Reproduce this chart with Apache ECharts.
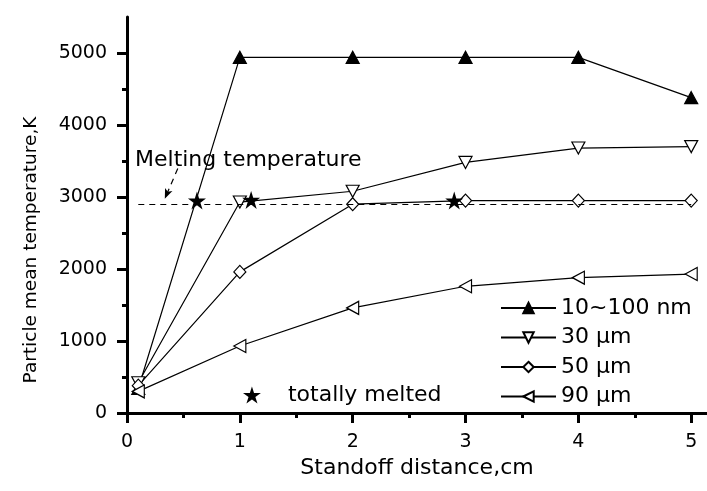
<!DOCTYPE html>
<html>
<head>
<meta charset="utf-8">
<script src="https://cdn.jsdelivr.net/npm/echarts@6/dist/echarts.min.js"></script>
<style>
html, body { margin: 0; padding: 0; background: #fff; }
#chart { width: 707px; height: 491px; }
</style>
</head>
<body>
<div id="chart"></div>
<script>
// standoff distance, cm
const distance = [0.1, 1, 2, 3, 4, 5];
// particle mean temperature, K
const tempNano = [340, 4940, 4940, 4940, 4940, 4380];
const temp30 = [420, 2930, 3080, 3480, 3680, 3700];
const temp50 = [380, 1960, 2900, 2950, 2950, 2950];
const temp90 = [300, 930, 1460, 1760, 1880, 1930];
const seriesNames = ['10~100 nm', '30 \u03bcm', '50 \u03bcm', '90 \u03bcm'];
// totally melted points
const meltedX = [0.62, 1.1, 2.9];
const meltedY = [2950, 2960, 2950];
// melting temperature line + arrow
const meltingTemp = 2900;
const meltingFrom = 0.1;
const meltingTo = 5;
const arrowStart = [0.45, 3395];
const arrowEnd = [0.335, 2976];
// ticks
const xTicks = [0, 1, 2, 3, 4, 5];
const yTicks = [0, 1000, 2000, 3000, 4000, 5000];

const STAR = 'path://M50 0 L61.2 34.5 L97.6 34.5 L68.2 55.9 L79.4 90.5 L50 69.1 L20.6 90.5 L31.8 55.9 L2.4 34.5 L38.8 34.5 Z';
const FONT = 'DejaVu Sans';

function pairs (ys) {
  return distance.map((x, i) => [x, ys[i]]);
}

function lineSeries (name, ys, symbol, rotate, size, filled) {
  return {
    name: name,
    type: 'line',
    data: pairs(ys),
    symbol: symbol,
    symbolRotate: rotate,
    symbolSize: size,
    showAllSymbol: true,
    lineStyle: { color: '#000', width: 1.2 },
    itemStyle: {
      color: filled ? '#000' : '#fff',
      borderColor: '#000',
      borderWidth: 1.2
    },
    z: 3
  };
}

const chart = echarts.init(document.getElementById('chart'));
chart.setOption({
  animation: false,
  backgroundColor: '#fff',
  grid: { left: 127, right: 0, top: 17, bottom: 78 },
  xAxis: {
    type: 'value',
    min: 0,
    max: 5.14,
    interval: 1,
    name: 'Standoff distance,cm',
    nameLocation: 'middle',
    nameGap: 42,
    nameTextStyle: { fontFamily: FONT, fontSize: 22, color: '#000' },
    axisLine: { lineStyle: { color: '#000', width: 3 } },
    axisTick: { length: 10, lineStyle: { color: '#000', width: 3 }, customValues: xTicks },
    minorTick: { show: true, splitNumber: 2, length: 5, lineStyle: { color: '#000', width: 3 } },
    axisLabel: { margin: 20, fontFamily: FONT, fontSize: 19, color: '#000', customValues: xTicks },
    splitLine: { show: false }
  },
  yAxis: {
    type: 'value',
    min: 0,
    max: 5500,
    interval: 1000,
    name: 'Particle mean temperature,K',
    nameLocation: 'middle',
    nameGap: 86,
    nameTextStyle: { fontFamily: FONT, fontSize: 18.5, color: '#000', padding: [0, 70, 0, 0] },
    axisLine: { lineStyle: { color: '#000', width: 3 } },
    axisTick: { length: 10, lineStyle: { color: '#000', width: 3 }, customValues: yTicks },
    minorTick: { show: true, splitNumber: 2, length: 5, lineStyle: { color: '#000', width: 3 } },
    axisLabel: {
      margin: 20,
      fontFamily: FONT,
      fontSize: 19,
      color: '#000',
      customValues: yTicks,
      formatter: v => String(v)
    },
    splitLine: { show: false }
  },
  legend: [
    {
      data: seriesNames,
      orient: 'vertical',
      left: 495,
      top: 292,
      itemWidth: 55,
      itemHeight: 13,
      itemGap: 7.5,
      selectedMode: false,
      textStyle: { fontFamily: FONT, fontSize: 22, color: '#000' }
    },
    {
      data: ['totally melted'],
      left: 238,
      top: 379,
      itemWidth: 18,
      itemHeight: 17,
      selectedMode: false,
      textStyle: { fontFamily: FONT, fontSize: 22, color: '#000', padding: [0, 0, 0, 22] }
    }
  ],
  graphic: [
    {
      type: 'text',
      left: 135,
      top: 149,
      style: { text: 'Melting temperature', font: '22px "DejaVu Sans"', fill: '#000' }
    }
  ],
  series: [
    lineSeries(seriesNames[0], tempNano, 'triangle', 0, [13, 12], true),
    lineSeries(seriesNames[1], temp30, 'triangle', 180, [13, 12], false),
    lineSeries(seriesNames[2], temp50, 'diamond', 0, [12, 13], false),
    lineSeries(seriesNames[3], temp90, 'triangle', 90, [13, 12], false),
    {
      name: 'totally melted',
      type: 'scatter',
      data: meltedX.map((x, i) => [x, meltedY[i]]),
      symbol: STAR,
      symbolSize: 18,
      itemStyle: { color: '#000', opacity: 1 },
      z: 4
    },
    {
      name: 'melting',
      type: 'line',
      data: [],
      markLine: {
        silent: true,
        animation: false,
        lineStyle: { color: '#000', type: [6, 5], width: 1.2 },
        label: { show: false },
        data: [
          [
            { coord: [meltingFrom, meltingTemp], symbol: 'none' },
            { coord: [meltingTo, meltingTemp], symbol: 'none' }
          ],
          [
            { coord: arrowStart, symbol: 'none' },
            { coord: arrowEnd, symbol: 'arrow', symbolSize: [6, 10] }
          ]
        ]
      }
    }
  ]
});
</script>
</body>
</html>
